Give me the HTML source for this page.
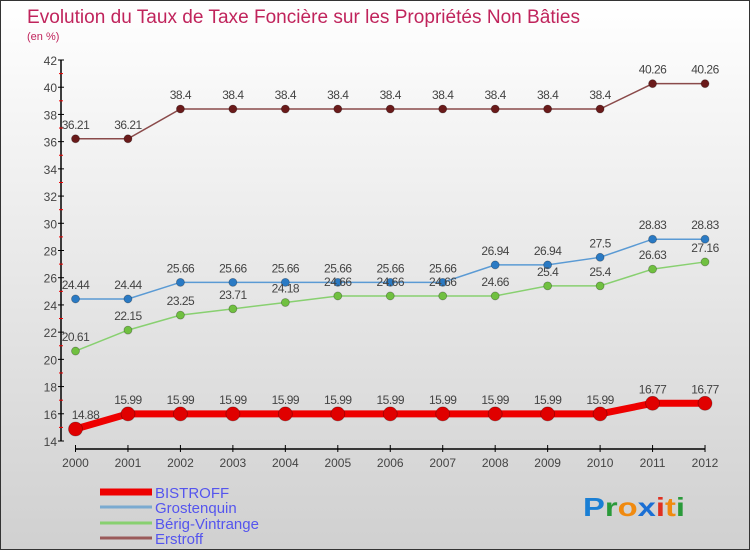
<!DOCTYPE html>
<html><head><meta charset="utf-8"><style>
html,body{margin:0;padding:0;width:750px;height:550px;overflow:hidden}
svg{display:block;font-family:"Liberation Sans",sans-serif}
</style></head><body>
<svg id="chart" width="750" height="550" viewBox="0 0 750 550">
<defs>
<linearGradient id="bg" x1="0" y1="0" x2="0" y2="1">
<stop offset="0" stop-color="#ffffff"/><stop offset="1" stop-color="#d0d0d0"/>
</linearGradient>
</defs>
<rect x="0.5" y="0.5" width="749" height="549" fill="url(#bg)" stroke="#333"/>
<text x="27" y="23" font-size="19" fill="#c0245c" textLength="553" lengthAdjust="spacingAndGlyphs">Evolution du Taux de Taxe Foncière sur les Propriétés Non Bâties</text>
<text x="27" y="40" font-size="11" fill="#c0245c">(en %)</text>
<g id="axes"></g>
<g id="series"></g>
<g id="legend"></g>
<text x="583" y="516" font-size="26" font-weight="bold" textLength="102" lengthAdjust="spacingAndGlyphs"><tspan fill="#1a7fd4">P</tspan><tspan fill="#2a9a3a">r</tspan><tspan fill="#f08a10">o</tspan><tspan fill="#1a6fd4">x</tspan><tspan fill="#e03020">i</tspan><tspan fill="#f08a10">t</tspan><tspan fill="#2a9a3a">i</tspan></text>
<script>
const years = ["2000","2001","2002","2003","2004","2005","2006","2007","2008","2009","2010","2011","2012"];
const bistroff = [14.88,15.99,15.99,15.99,15.99,15.99,15.99,15.99,15.99,15.99,15.99,16.77,16.77];
const grostenquin = [24.44,24.44,25.66,25.66,25.66,25.66,25.66,25.66,26.94,26.94,27.5,28.83,28.83];
const berig = [20.61,22.15,23.25,23.71,24.18,24.66,24.66,24.66,24.66,25.4,25.4,26.63,27.16];
const erstroff = [36.21,36.21,38.4,38.4,38.4,38.4,38.4,38.4,38.4,38.4,38.4,40.26,40.26];
const yTicks = [14,16,18,20,22,24,26,28,30,32,34,36,38,40,42];
const seriesNames = ["BISTROFF","Grostenquin","Bérig-Vintrange","Erstroff"];

const NS="http://www.w3.org/2000/svg";
const svg=document.getElementById('chart');
function X(i){return 75.5+i*52.46;}
function Y(v){return 441-(v-14)*13.607;}
function mk(tag,attrs,parent,text){const e=document.createElementNS(NS,tag);for(const k in attrs)e.setAttribute(k,attrs[k]);if(text!==undefined)e.textContent=text;parent.appendChild(e);return e;}

const axes=document.getElementById('axes');
let e=mk('line',{x1:61,y1:Y(42),x2:61,y2:Y(14),stroke:'#000','stroke-width':1.5},axes);


e=mk('line',{x1:X(0),y1:449,x2:X(12),y2:449,stroke:'#000','stroke-width':1.5},axes);


yTicks.forEach(v=>{
  mk('line',{x1:58,y1:Y(v),x2:64,y2:Y(v),stroke:'#000'},axes);
  e=mk('text',{x:57,y:Y(v)+5,'font-size':12,fill:'#444','text-anchor':'end'},axes,String(v));
  
  
  if(v<42) mk('line',{x1:59,y1:Y(v+1),x2:63,y2:Y(v+1),stroke:'#e00'},axes);
});
years.forEach((y,i)=>{
  mk('line',{x1:X(i),y1:445,x2:X(i),y2:452,stroke:'#000'},axes);
  e=mk('text',{x:X(i),y:467,'font-size':12,fill:'#444','text-anchor':'middle'},axes,y);
  
  
});

const sg=document.getElementById('series');
function draw(vals,color,dot,w,r,name,labelDx){
  const g=mk('g',{},sg);
  
  
  const pts=vals.map((v,i)=>X(i)+','+Y(v)).join(' ');
  mk('polyline',{points:pts,fill:'none',stroke:color,'stroke-width':w},g);
  vals.forEach((v,i)=>{
    const c=mk('circle',{cx:X(i),cy:Y(v),r:r,fill:dot,stroke:'rgba(0,0,0,0.3)','stroke-width':0.8},g);
    
    
    const t=mk('text',{x:X(i)+(i===0?labelDx:0),y:Y(v)-10,'font-size':12,fill:'#444','text-anchor':'middle','letter-spacing':'-0.5'},g,String(v));
    
    
  });
}
draw(erstroff,'#8a4a4a','#6a1a1a',1.5,4,'series-erstroff',0);
draw(grostenquin,'#5a9ad4','#2a7ac4',1.5,4,'series-grostenquin',0);
draw(berig,'#88d070','#70c040',1.5,4,'series-berig-vintrange',0);
draw(bistroff,'#ee0000','#e00000',7,7,'series-bistroff',10);

const lg=document.getElementById('legend');
const lcol=['#ee0000','#7aaad0','#88d070','#9a5a5a'];
const lys=[492,507,523,538];
seriesNames.forEach((n,i)=>{
  const g=mk('g',{},lg);
  
  
  mk('line',{x1:100,y1:lys[i],x2:152,y2:lys[i],stroke:lcol[i],'stroke-width':i===0?7:3},g);
  mk('text',{x:155,y:lys[i]+6,'font-size':15,fill:'#5555ee'},g,n);
});
</script>
</svg>
</body></html>
